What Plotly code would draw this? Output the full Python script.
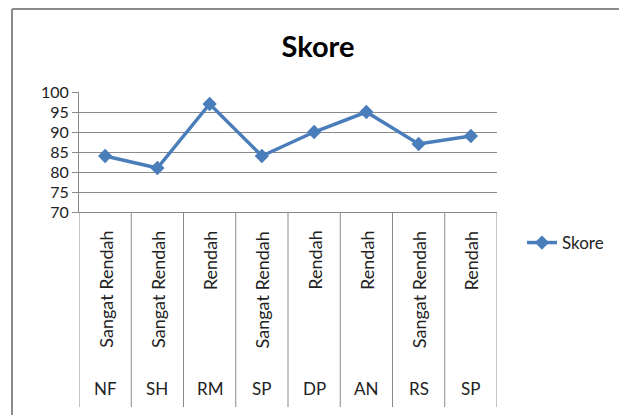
import plotly.graph_objects as go

# data
names = ["NF", "SH", "RM", "SP", "DP", "AN", "RS", "SP"]
kategori = ["Sangat Rendah", "Sangat Rendah", "Rendah", "Sangat Rendah",
            "Rendah", "Rendah", "Sangat Rendah", "Rendah"]
skore = [84, 81, 97, 84, 90, 95, 87, 89]

OFF = 8  # page body margin
W, H = 627, 415
L, T = 79 - OFF, 92 - OFF
R = W - (497 - OFF)
B = H - (212 - OFF)
plot_h = H - T - B
pw = W - L - R
FONT = "Lato"
GRID = "#8a8a8a"
BLUE = "#4A7EBB"

idx = list(range(len(skore)))

fig = go.Figure()
fig.add_trace(go.Scatter(x=idx, y=skore, mode="lines+markers", name="Skore",
                         line=dict(color=BLUE, width=3.5),
                         marker=dict(symbol="diamond", size=11, color=BLUE)))


def py(pix):
    # page pixel row -> paper y
    return (H - B - (pix - OFF)) / plot_h


def px(pix):
    # page pixel column -> paper x
    return (pix - OFF - L) / pw


shapes = []
# category dividers below the plot
for i in range(len(skore) + 1):
    shapes.append(dict(type="line", xref="x", yref="paper", x0=i - 0.5, x1=i - 0.5,
                       y0=0, y1=py(407), line=dict(color=GRID, width=1)))

# outer chart border (left and top)
shapes.append(dict(type="line", xref="paper", yref="paper", x0=px(12), x1=px(12),
                   y0=py(9), y1=py(420), line=dict(color="#8c8c8c", width=2)))
shapes.append(dict(type="line", xref="paper", yref="paper", x0=px(12), x1=px(640),
                   y0=py(9), y1=py(9), line=dict(color="#8c8c8c", width=2)))

annotations = []
for i, (n, k) in enumerate(zip(names, kategori)):
    annotations.append(dict(x=i, y=py(229), xref="x", yref="paper", text=k,
                            textangle=-90, showarrow=False, xanchor="center",
                            yanchor="top", font=dict(family=FONT, size=18, color="#222")))
    annotations.append(dict(x=i, y=py(388), xref="x", yref="paper", text=n,
                            showarrow=False, xanchor="center", yanchor="middle",
                            font=dict(family=FONT, size=17, color="#222")))

fig.update_layout(
    width=W, height=H,
    margin=dict(l=L, r=R, t=T, b=B),
    paper_bgcolor="white", plot_bgcolor="white",
    font=dict(family=FONT, size=16, color="#222"),
    title=dict(text="<b>Skore</b>", x=(318 - OFF) / W, xanchor="center", xref="container",
               y=1 - (47 - OFF) / H, yanchor="middle", yref="container",
               font=dict(family=FONT, size=29, color="#000")),
    showlegend=True,
    legend=dict(x=px(522), y=py(243), xanchor="left", yanchor="middle",
                bgcolor="rgba(0,0,0,0)", font=dict(family=FONT, size=17, color="#222"),
                itemwidth=30),
    shapes=shapes,
    annotations=annotations,
)
fig.update_xaxes(type="linear", range=[-0.5, len(skore) - 0.5], showticklabels=False,
                 showgrid=False, zeroline=False, showline=True, linecolor=GRID,
                 linewidth=1, ticks="")
fig.update_yaxes(range=[70, 100], dtick=5, tick0=70, showgrid=True, gridcolor=GRID,
                 gridwidth=1, zeroline=False, showline=True, linecolor=GRID, linewidth=1,
                 ticks="outside", ticklen=6, tickcolor=GRID,
                 tickfont=dict(family=FONT, size=16, color="#222"))

fig.write_html("out.html")
